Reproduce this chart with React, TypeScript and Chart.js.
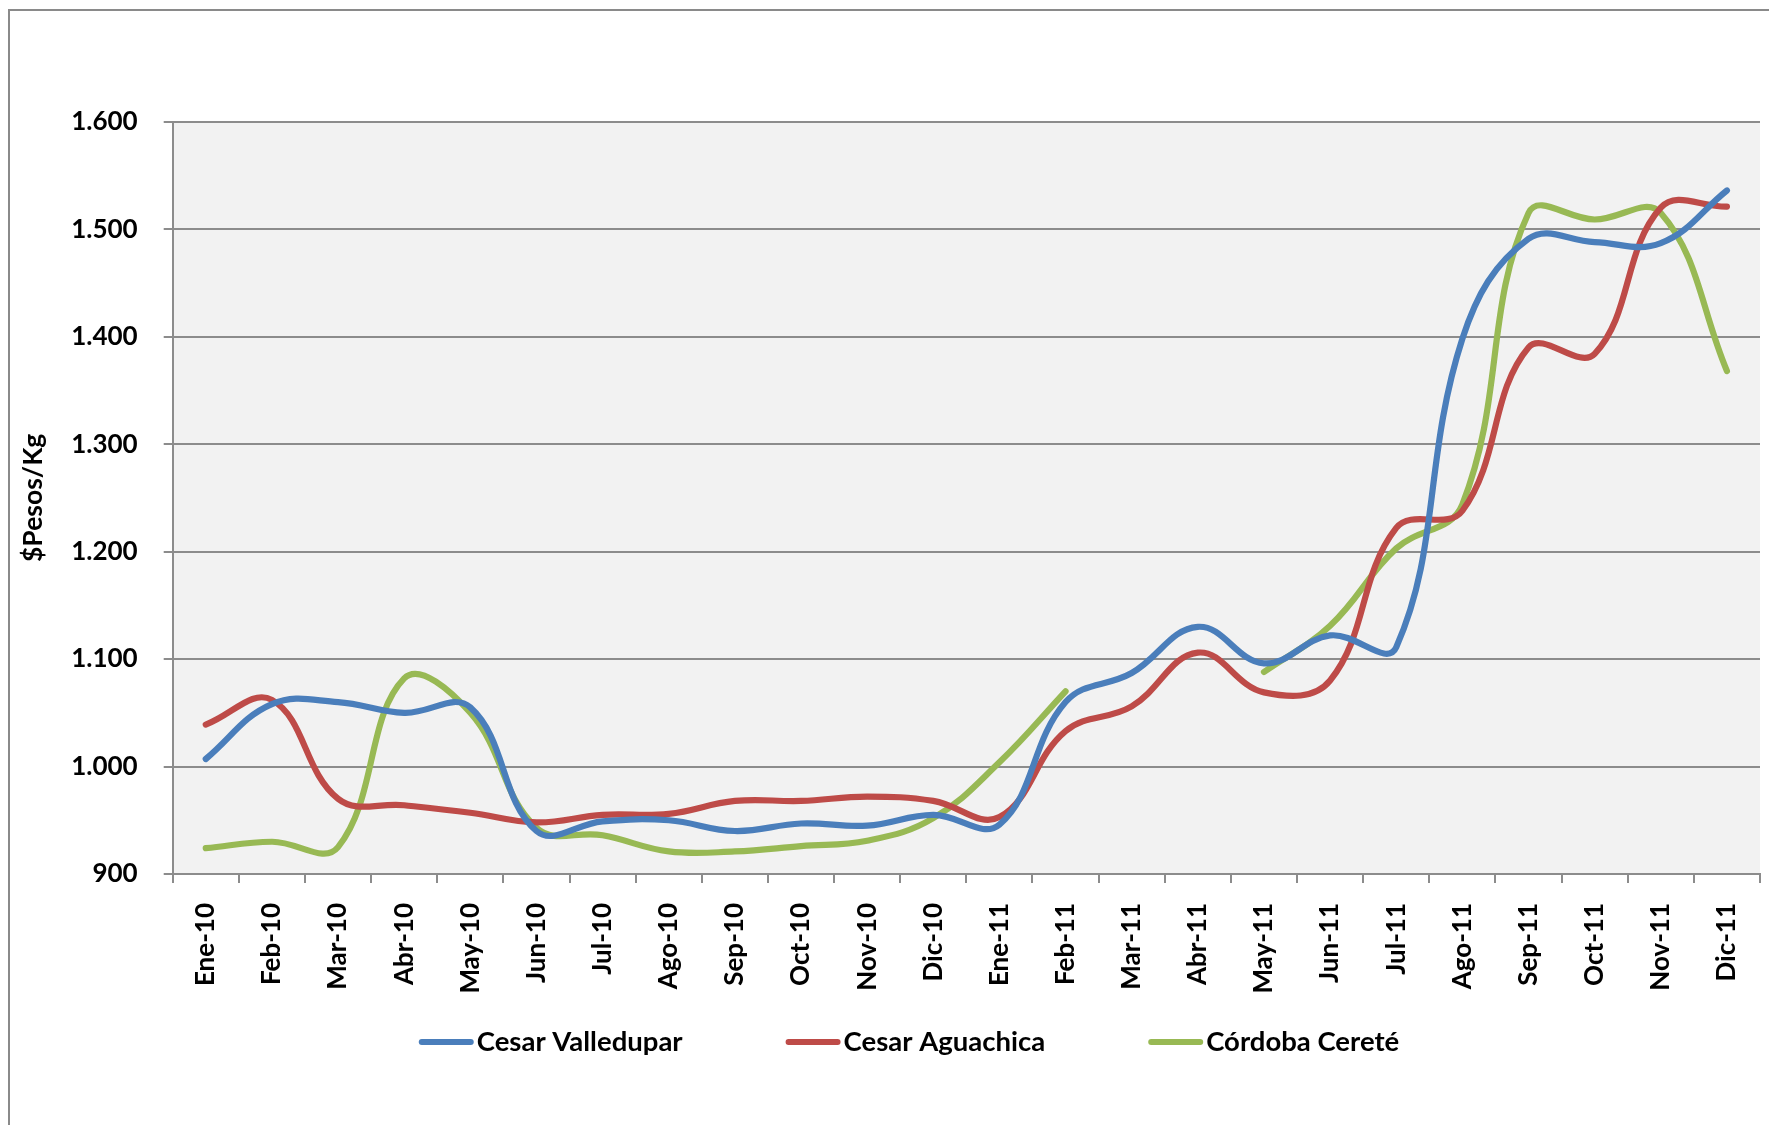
import React, { useEffect, useRef } from "react";
import { Chart, registerables } from "chart.js";

Chart.register(...registerables);

// ---- data ----
const categories = [
  "Ene-10", "Feb-10", "Mar-10", "Abr-10", "May-10", "Jun-10", "Jul-10", "Ago-10",
  "Sep-10", "Oct-10", "Nov-10", "Dic-10", "Ene-11", "Feb-11", "Mar-11", "Abr-11",
  "May-11", "Jun-11", "Jul-11", "Ago-11", "Sep-11", "Oct-11", "Nov-11", "Dic-11",
];

const cesarValledupar = [
  1007, 1058, 1060, 1050, 1055, 940, 949, 950, 940, 947, 945, 955,
  946, 1060, 1087, 1130, 1096, 1122, 1111, 1398, 1491, 1488, 1487, 1536,
];

const cesarAguachica = [
  1039, 1062, 970, 964, 957, 948, 955, 956, 968, 968, 972, 968,
  953, 1033, 1056, 1106, 1069, 1080, 1222, 1238, 1390, 1384, 1520, 1521,
];

const cordobaCerete: (number | null)[] = [
  924, 930, 925, 1082, 1050, 943, 936, 921, 921, 926, 931, 952,
  1004, 1070, null, null, 1088, 1131, 1203, 1244, 1515, 1509, 1515, 1368,
];

const seriesNames = ["Cesar Valledupar", "Cesar Aguachica", "Córdoba Cereté"];
const seriesColors = ["#4A7EBB", "#BE4B48", "#98B954"];

const yMin = 900;
const yMax = 1600;
const yStep = 100;
const yTitle = "$Pesos/Kg";

// ---- style ----
const FONT_FAMILY = "Lato";
const FONT_SIZE = 26;
const LEGEND_FONT_SIZE = 27.5;
const GRID = "#8C8C8C";
const CANVAS_W = 1798;
const CANVAS_H = 1120;
const LEGEND_Y = 1031;

function formatThousands(v: number): string {
  if (v >= 1000) {
    const th = Math.floor(v / 1000);
    const rest = String(v % 1000).padStart(3, "0");
    return th + "." + rest;
  }
  return String(v);
}

const plotBgPlugin = {
  id: "plotBg",
  beforeDraw(chart: any) {
    const { ctx, chartArea } = chart;
    if (!chartArea) return;
    ctx.save();
    ctx.fillStyle = "#F2F2F2";
    ctx.fillRect(
      chartArea.left,
      chartArea.top,
      chartArea.right - chartArea.left,
      chartArea.bottom - chartArea.top
    );
    ctx.restore();
  },
};

const legendPlugin = {
  id: "customLegend",
  afterDraw(chart: any) {
    const ctx = chart.ctx as CanvasRenderingContext2D;
    ctx.save();
    ctx.font = `bold ${LEGEND_FONT_SIZE}px ${FONT_FAMILY}`;
    const lineLen = 55;
    const gap = 3;
    const spacing = 103;
    const widths = seriesNames.map((n) => ctx.measureText(n).width);
    const total =
      widths.reduce((a, w) => a + lineLen + gap + w, 0) +
      spacing * (seriesNames.length - 1);
    let x = chart.width / 2 - total / 2;
    const y = LEGEND_Y;
    seriesNames.forEach((n, i) => {
      ctx.strokeStyle = seriesColors[i];
      ctx.lineWidth = 6;
      ctx.lineCap = "round";
      ctx.beginPath();
      ctx.moveTo(x + 3, y);
      ctx.lineTo(x + lineLen - 3, y);
      ctx.stroke();
      ctx.fillStyle = "#000000";
      ctx.textBaseline = "middle";
      ctx.textAlign = "left";
      ctx.fillText(n, x + lineLen + gap, y);
      x += lineLen + gap + widths[i] + spacing;
    });
    ctx.restore();
  },
};

function App() {
  const canvasRef = useRef<HTMLCanvasElement | null>(null);

  useEffect(() => {
    document.documentElement.style.overflow = "hidden";
    document.body.style.overflow = "hidden";
    const canvas = canvasRef.current;
    if (!canvas) return;
    const datasets = [cesarValledupar, cesarAguachica, cordobaCerete].map(
      (data, i) => ({
        label: seriesNames[i],
        data,
        borderColor: seriesColors[i],
        backgroundColor: seriesColors[i],
        borderWidth: 6.2,
        pointRadius: 0,
        pointHoverRadius: 0,
        tension: 0.4,
        spanGaps: false,
        fill: false,
        borderCapStyle: "round" as const,
        borderJoinStyle: "round" as const,
      })
    );

    const chart = new Chart(canvas, {
      type: "line",
      data: { labels: categories, datasets },
      plugins: [plotBgPlugin, legendPlugin],
      options: {
        animation: false,
        responsive: false,
        maintainAspectRatio: false,
        devicePixelRatio: 1,
        layout: { padding: { left: 0, top: 110.7, right: 48, bottom: 0 } },
        plugins: {
          legend: { display: false },
          tooltip: { enabled: false },
          title: { display: false },
        },
        scales: {
          x: {
            type: "category",
            offset: true,
            grid: {
              display: true,
              drawOnChartArea: false,
              drawTicks: true,
              tickLength: 9,
              color: GRID,
              lineWidth: 2,
              offset: true,
            },
            border: { display: true, color: GRID, width: 2 },
            ticks: {
              autoSkip: false,
              minRotation: 90,
              maxRotation: 90,
              padding: 20,
              color: "#000000",
              font: { family: FONT_FAMILY, size: FONT_SIZE, weight: "bold" },
            },
            afterFit(scale: any) {
              scale.height = CANVAS_H - 863;
            },
          },
          y: {
            type: "linear",
            min: yMin,
            max: yMax,
            grid: {
              display: true,
              drawOnChartArea: true,
              drawTicks: true,
              tickLength: 9,
              color: GRID,
              lineWidth: 2,
            },
            border: { display: true, color: GRID, width: 2 },
            ticks: {
              stepSize: yStep,
              padding: 26,
              color: "#000000",
              font: { family: FONT_FAMILY, size: FONT_SIZE, weight: "bold" },
              callback: (v: any) => formatThousands(Number(v)),
            },
            title: {
              display: true,
              text: yTitle,
              color: "#000000",
              padding: { top: 8, bottom: 0 },
              font: { family: FONT_FAMILY, size: 26.5, weight: "bold" },
            },
            afterFit(scale: any) {
              scale.width = 162.7;
            },
          },
        },
      },
    } as any);

    return () => {
      chart.destroy();
    };
  }, []);

  return (
    <div
      style={{
        position: "relative",
        width: 1769,
        height: 1125,
        overflow: "hidden",
        marginBottom: -8,
        background: "#FFFFFF",
      }}
    >
      <div
        style={{
          position: "absolute",
          left: 0,
          top: 1,
          width: 1830,
          height: CANVAS_H,
          border: "2px solid #8A8A8A",
          background: "#FFFFFF",
        }}
      >
        <canvas
          ref={canvasRef}
          width={CANVAS_W}
          height={CANVAS_H}
          style={{
            position: "absolute",
            left: 0,
            top: 0,
            width: CANVAS_W,
            height: CANVAS_H,
          }}
        />
      </div>
    </div>
  );
}

export default App;
